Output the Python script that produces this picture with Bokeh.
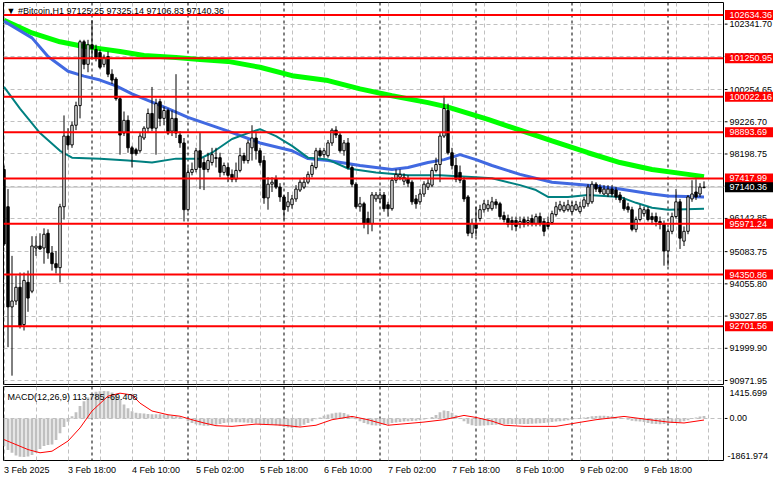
from bokeh.plotting import figure
from bokeh.models import Range1d, FixedTicker, Label, Span, Grid, ColumnDataSource
from bokeh.layouts import column, row
from bokeh.embed import file_html
from bokeh.resources import INLINE
from bokeh.core.properties import value

FONT = "Liberation Sans"

# ---------------- data (hourly bars from 3 Feb 2025 02:00) ----------------
opens = [97706, 96516, 93320, 93508, 93947, 92756, 94104, 93822, 95200, 95263,
         95200, 95670, 95044, 94699, 94573, 96516, 98771, 98489, 99116, 99743,
         101779, 101059, 101685, 101529, 101435, 101059, 101309, 100745, 100589, 99962,
         98866, 99272, 98396, 98333, 98302, 98709, 99022, 99492, 99022, 99868,
         99335, 99586, 98928, 99335, 98803, 98552, 96422, 97612, 97706, 98302,
         97926, 97706, 97926, 98082, 98082, 97612, 97769, 97549, 97393, 97675,
         98145, 97989, 98396, 98709, 98302, 97989, 96797, 97236, 97393, 97142,
         96829, 96516, 96579, 96766, 97048, 97142, 97299, 97549, 97769, 98302,
         98177, 98145, 98552, 98959, 98803, 98302, 98552, 97769, 97236, 96516,
         96610, 96139, 95983, 96766, 96766, 96892, 96579, 96453, 97362, 97456,
         97330, 97393, 97299, 96766, 96673, 96923, 97142, 97205, 97675, 97863,
         98771, 99586, 98239, 97831, 97612, 97362, 96829, 95670, 95983, 96139,
         96422, 96453, 96453, 96673, 96610, 96233, 96139, 96077, 96077, 95952,
         96108, 96014, 96139, 95983, 96202, 96046, 96014, 96014, 96265, 96422,
         96390, 96422, 96359, 96422, 96359, 96516, 96610, 96673, 97236, 97142,
         96923, 96923, 97079, 97048, 96892, 96735, 96516, 96422, 95795, 96108,
         96296, 96422, 96202, 96202, 96046, 95983, 95106, 95732, 96202, 96673,
         95419, 95732, 96766, 96986, 96923, 97125.25]
highs = [97831, 97079, 94949, 94323, 94417, 94417, 94479, 95576, 95576, 95670,
         95826, 95795, 95263, 95106, 96610, 99429, 99022, 99241, 99868, 101842,
         101842, 101842, 102468, 101685, 101529, 101372, 101466, 100902, 100651, 100025,
         99555, 99429, 98458, 98396, 98866, 99085, 99649, 100338, 99962, 99962,
         99712, 99649, 99586, 100745, 98928, 98709, 97769, 97926, 98396, 98866,
         98082, 98239, 98396, 98396, 98239, 97926, 97926, 97706, 97926, 98396,
         98239, 98646, 99116, 98866, 98396, 98145, 97456, 97456, 97518, 97268,
         96892, 96986, 96892, 97205, 97393, 97456, 97643, 97926, 98396, 98396,
         98396, 98646, 99022, 99085, 98866, 98646, 98709, 97831, 97299, 96829,
         96673, 96359, 96986, 96986, 96986, 96986, 96673, 97456, 97706, 97706,
         97581, 97518, 97362, 96892, 97079, 97330, 97393, 97769, 98082, 98866,
         100056, 99805, 98396, 98082, 97831, 97456, 96892, 96139, 96516, 96579,
         96735, 96735, 96829, 96766, 96673, 96359, 96265, 96202, 96202, 96202,
         96202, 96202, 96265, 96296, 96328, 96139, 96202, 96390, 96673, 96704,
         96673, 96735, 96673, 96704, 96673, 96829, 97236, 97330, 97299, 97236,
         97205, 97205, 97205, 97142, 96986, 96829, 96641, 96516, 96202, 96579,
         96516, 96516, 96328, 96328, 96202, 96077, 95826, 96328, 97079, 96766,
         95889, 96892, 97362, 97393, 97268, 97325.14]
lows = [95263, 92036, 91127, 93383, 92631, 92568, 93164, 93759, 94949, 95138,
        94699, 94855, 94479, 94386, 94104, 96108, 98333, 98396, 98959, 99335,
        100902, 100808, 101216, 101153, 100902, 100965, 100651, 100432, 99899, 98177,
        98771, 98239, 97769, 98145, 98239, 98646, 98866, 98928, 98177, 99085,
        99116, 98803, 98771, 98709, 98396, 96046, 96359, 97518, 97612, 97079,
        97048, 97612, 97831, 97769, 97456, 97518, 97299, 97299, 97299, 97612,
        97894, 97894, 97989, 98020, 97831, 96610, 96422, 96986, 97079, 96673,
        96108, 96359, 96453, 96673, 96986, 97079, 97236, 97456, 97706, 98082,
        98082, 98082, 98458, 98709, 98239, 98145, 97706, 97142, 96453, 96359,
        95826, 95639, 95732, 96673, 96641, 96359, 96202, 96390, 97268, 97362,
        97205, 97142, 96579, 96453, 96579, 96829, 97048, 97142, 97612, 97299,
        98709, 98177, 97706, 97299, 97268, 96673, 95576, 95513, 95576, 96046,
        96328, 96359, 96390, 96453, 96108, 96014, 95857, 95763, 95732, 95826,
        95857, 95889, 95889, 95889, 95889, 95576, 95795, 95952, 96202, 96359,
        96328, 96359, 96296, 96390, 96296, 96453, 96516, 96610, 96986, 96923,
        96892, 96829, 96829, 96735, 96641, 96390, 96328, 95732, 95701, 96046,
        96202, 96046, 95952, 95889, 95795, 94636, 94636, 95639, 96139, 95169,
        95263, 95639, 96673, 96735, 96829, 97106.83]
closes = [95325, 93320, 93508, 93947, 92693, 94166, 93602, 95263, 95263, 95169,
          95639, 95044, 94699, 94573, 96516, 98771, 98489, 99116, 99743, 101779,
          101059, 101685, 101560, 101278, 100965, 101278, 100745, 100557, 99962, 98803,
          99272, 98396, 98208, 98208, 98771, 99022, 99492, 99022, 99805, 99335,
          99586, 98866, 99335, 98866, 98552, 96422, 97612, 97706, 98302, 97769,
          97706, 97989, 98177, 98060, 97612, 97831, 97518, 97393, 97675, 98145,
          97989, 98552, 98709, 98302, 97926, 96797, 97236, 97299, 97142, 96829,
          96422, 96673, 96766, 97079, 97299, 97299, 97549, 97831, 98302, 98145,
          98302, 98552, 98959, 98803, 98302, 98552, 97769, 97236, 96516, 96610,
          95983, 95983, 96892, 96892, 96892, 96453, 96453, 97362, 97549, 97549,
          97456, 97268, 96673, 96610, 96923, 97236, 97268, 97675, 97863, 98771,
          99649, 98239, 97831, 97393, 97362, 96766, 95670, 95983, 95826, 96422,
          96610, 96579, 96673, 96579, 96202, 96108, 95952, 95952, 95889, 96046,
          95952, 96077, 95983, 96202, 95983, 95732, 95889, 96296, 96516, 96579,
          96547, 96579, 96547, 96579, 96516, 96735, 97142, 97236, 97079, 96986,
          97079, 97079, 96923, 96829, 96735, 96453, 96422, 95795, 96108, 96453,
          96422, 96108, 96108, 96046, 95952, 95106, 95732, 96202, 96673, 95513,
          95732, 96829, 96923, 96829, 97142, 97140.36]

# moving averages read at sample bars
ma_slow_bar = [0, 7, 14, 19, 24, 29, 35, 43, 49, 56, 64, 72, 81, 89, 97, 106, 111, 121, 129, 137, 146, 154, 162, 171, 175]
ma_slow_val = [102468, 102060, 101779, 101654, 101560, 101466, 101341, 101278, 101216, 101153, 100965, 100698,
               100541, 100275, 100056, 99837, 99696, 99304, 98960, 98615, 98239, 97926, 97706, 97549, 97471]
ma_mid_bar = [0, 7, 11, 16, 20, 24, 28, 32, 41, 46, 56, 64, 72, 76, 81, 89, 97, 101, 106, 110, 114, 118, 122,
              129, 137, 146, 154, 162, 166, 175]
ma_mid_val = [102437, 101904, 101309, 100839, 100683, 100557, 100370, 100119, 99649, 99367, 98928, 98552, 98302,
              98051, 97989, 97831, 97706, 97769, 97926, 98020, 98177, 98020, 97831, 97549, 97299, 97205, 97079,
              96923, 96860, 96829]
ma_fast_bar = [0, 4, 9, 14, 17, 24, 31, 37, 43, 49, 52, 57, 61, 64, 68, 72, 76, 81, 86, 93, 101, 109, 118, 122,
               129, 133, 136, 141, 146, 154, 158, 162, 166, 175]
ma_fast_val = [100338, 99649, 98866, 98302, 98082, 98051, 97989, 97926, 98051, 98051, 98239, 98677, 98866, 98990,
               98771, 98458, 98082, 98020, 97737, 97612, 97518, 97518, 97456, 97424, 97205, 97048, 96829, 96829,
               96892, 96829, 96641, 96484, 96422, 96453]

# MACD(12,26,9)
macd_hist = [-1216, -1400, -1520, -1640, -1700, -1710, -1690, -1620, -1520, -1350,
             -1220, -1170, -1150, -950, -650, -380, -150, 100, 280, 550,
             760, 930, 1100, 1180, 1210, 1220, 1200, 1150, 1050, 850,
             620, 450, 320, 250, 230, 220, 200, 190, 190, 185,
             170, 150, 120, 100, 60, 10,
             -120, -200, -260, -300, -320, -320, -300, -280, -240, -200, -180, -170, -170, -170, -180, -190, -200, -220,
             -250, -260, -270, -280, -300, -330,
             -380, -400, -420, -400, -350,
             -280, -200, -120, -40, 40,
             120, 180, 220,
             250, 260, 240, 180, 80,
             -30, -120, -200,
             -260, -300, -310, -300, -280, -250,
             -200, -180, -160,
             -140, -120, -110, -100, -80, -50, -10,
             60, 150,
             280, 350, 330, 250,
             140, 20,
             -120, -230,
             -300, -320, -320, -310, -300, -290, -280,
             -270, -260, -260, -250, -250, -250, -240, -240, -230, -220, -210, -200, -180, -160, -140, -120,
             -100, -80, -50, -20,
             10, 40, 70,
             100, 110, 120, 120, 110, 100, 70, 30,
             -20, -60, -100, -120, -140, -160,
             -200, -230, -250, -260, -250,
             -220, -200, -180, -160, -120, -80,
             -20, 40, 90, 113.785]
signal_bar = [0, 3, 6, 9, 12, 16, 19, 22, 26, 29, 32, 34, 37, 41, 44, 47, 50, 53, 57, 63, 70, 74, 78, 82, 87,
              91, 96, 105, 110, 115, 118, 122, 125, 130, 138, 143, 148, 155, 160, 166, 170, 175]
signal_val = [-937, -1157, -1377, -1520, -1450, -1000, -420, 330, 990, 1120, 1040, 680, 330, 165, 100, -55, -200,
              -320, -350, -250, -300, -380, -300, -55, 90, -55, -300, -160, -55, 135, 45, -120, -300, -350, -350,
              -200, -55, 90, -25, -160, -200, -69.408]
macd_lo, macd_hi = -1861.974, 1415.699
macd_tick_labels = ["-1861.974", "0.00", "1415.699"]

day_start_bars = [22, 46, 70, 94, 118, 142, 166]
time_tick_bars = [0, 16, 32, 48, 64, 80, 96, 112, 128, 144, 160]
time_tick_labels = ["3 Feb 2025", "3 Feb 18:00", "4 Feb 10:00", "5 Feb 02:00", "5 Feb 18:00", "6 Feb 10:00",
                    "7 Feb 02:00", "7 Feb 18:00", "8 Feb 10:00", "9 Feb 02:00", "9 Feb 18:00"]
grid_bars = list(range(0, 177, 8))
price_ticks = [102341.70, 101313.75, 100254.65, 99226.70, 98198.75, 97170.80, 96142.85, 95083.75, 94055.80,
               93027.85, 91999.90, 90971.95]
levels = [102634.36, 101250.95, 100022.16, 98893.69, 97417.99, 95971.24, 94350.86, 92701.56]
last_price = 97140.36
title_text = "\u25bc  #Bitcoin,H1  97125.25 97325.14 97106.83 97140.36"
macd_text = "MACD(12,26,9) 113.785 -69.408"

# ---------------- layout ----------------
X0, X1 = -0.125, 179.875
Y0, Y1 = 90845, 103032
x_range = Range1d(X0, X1)
y_range = Range1d(Y0, Y1)
m_range = Range1d(macd_lo, macd_hi)
GRID = dict(grid_line_color="#c0c0c0", grid_line_dash="4 3", grid_line_width=1)


def base_fig(**kw):
    f = figure(output_backend="svg", toolbar_location=None, x_axis_location=None, y_axis_location=None,
               background_fill_color="white", border_fill_color="white", **kw)
    f.grid.visible = False
    return f


# main price panel
p = base_fig(width=724, height=385, x_range=x_range, y_range=y_range,
             min_border_left=3, min_border_right=1, min_border_top=2, min_border_bottom=1,
             outline_line_color="black")
p.add_layout(Grid(dimension=0, ticker=FixedTicker(ticks=grid_bars), **GRID))
p.add_layout(Grid(dimension=1, ticker=FixedTicker(ticks=price_ticks), **GRID))
for d in day_start_bars:
    p.add_layout(Span(location=d, dimension="height", line_color="black", line_dash="3 3",
                      line_width=1, level="underlay"))
p.add_layout(Span(location=last_price, dimension="width", line_color="#c0c0c0", line_width=1, level="underlay"))

p.line(ma_slow_bar, ma_slow_val, line_color="#00ff00", line_width=5)
p.line(ma_mid_bar, ma_mid_val, line_color="#4169e1", line_width=3)
p.line(ma_fast_bar, ma_fast_val, line_color="#008080", line_width=2)

bars = list(range(len(closes)))
src = ColumnDataSource(dict(
    x=bars, h=highs, l=lows,
    top=[max(o, c) for o, c in zip(opens, closes)],
    bot=[min(o, c) for o, c in zip(opens, closes)],
    fill=["white" if c >= o else "black" for o, c in zip(opens, closes)],
))
p.segment(x0="x", y0="l", x1="x", y1="h", source=src, line_color="black", line_width=1)
p.vbar(x="x", top="top", bottom="bot", width=0.6, fill_color="fill", line_color="black", line_width=1, source=src)

for lv in levels:
    p.add_layout(Span(location=lv, dimension="width", line_color="#ff0000", line_width=2))
p.add_layout(Label(x=X0, y=Y1, x_offset=3, y_offset=-8, text=title_text, text_font=FONT, text_font_size="9px",
                   text_color="black", text_baseline="middle", text_align="left"))

# price scale column (shares the price range)
s1 = base_fig(width=49, height=385, x_range=Range1d(0, 49), y_range=y_range,
              min_border_left=0, min_border_right=0, min_border_top=2, min_border_bottom=1,
              outline_line_color=None)
TXT = dict(text_font=value(FONT), text_font_size="9px", text_baseline="middle", text_align="left")
s1.segment(x0=0, x1=3, y0=price_ticks, y1=price_ticks, line_color="black", line_width=1)
s1.text(x=5, y=price_ticks, text=[f"{v:.2f}" for v in price_ticks], text_color="black", **TXT)
s1.rect(x=24.5, y=levels, width=48, height=10, height_units="screen", fill_color="#ff0000", line_color=None)
s1.text(x=5, y=levels, text=[f"{v:.2f}" for v in levels], text_color="white", **TXT)
s1.rect(x=24.5, y=[last_price], width=48, height=10, height_units="screen", fill_color="black", line_color=None)
s1.text(x=5, y=[last_price], text=[f"{last_price:.2f}"], text_color="white", **TXT)

# MACD panel
q = base_fig(width=724, height=76, x_range=x_range, y_range=m_range,
             min_border_left=3, min_border_right=1, min_border_top=1, min_border_bottom=1,
             outline_line_color="black")
q.add_layout(Grid(dimension=0, ticker=FixedTicker(ticks=grid_bars), **GRID))
q.add_layout(Grid(dimension=1, ticker=FixedTicker(ticks=[0]), **GRID))
for d in day_start_bars:
    q.add_layout(Span(location=d, dimension="height", line_color="black", line_dash="3 3",
                      line_width=1, level="underlay"))
q.vbar(x=bars, top=macd_hist, bottom=0, width=0.7, fill_color="#c0c0c0", line_color=None)
q.line(signal_bar, signal_val, line_color="#ff0000", line_width=1)
q.add_layout(Label(x=X0, y=macd_hi, x_offset=4, y_offset=-10, text=macd_text, text_font=FONT,
                   text_font_size="9px", text_color="black", text_baseline="middle", text_align="left"))

s2 = base_fig(width=49, height=76, x_range=Range1d(0, 49), y_range=m_range,
              min_border_left=0, min_border_right=0, min_border_top=1, min_border_bottom=1,
              outline_line_color=None)
s2.segment(x0=0, x1=3, y0=[0], y1=[0], line_color="black", line_width=1)
s2.text(x=5, y=[macd_hi], text=[macd_tick_labels[2]], text_color="black", y_offset=3,
        text_font=value(FONT), text_font_size="9px", text_baseline="top", text_align="left")
s2.text(x=5, y=[0], text=[macd_tick_labels[1]], text_color="black", **TXT)
s2.text(x=3, y=[macd_lo], text=[macd_tick_labels[0]], text_color="black", y_offset=-2,
        text_font=value(FONT), text_font_size="9px", text_baseline="bottom", text_align="left")

# time scale strip (shares the bar range)
t = base_fig(width=773, height=20, x_range=x_range, y_range=Range1d(0, 20),
             min_border_left=3, min_border_right=50, min_border_top=0, min_border_bottom=0,
             outline_line_color=None)
t.text(x=time_tick_bars, y=12, text=time_tick_labels, text_color="black", **TXT)

layout = column(row(p, s1, spacing=0), row(q, s2, spacing=0), t, spacing=0)
open("out.html", "w").write(file_html(layout, INLINE))
